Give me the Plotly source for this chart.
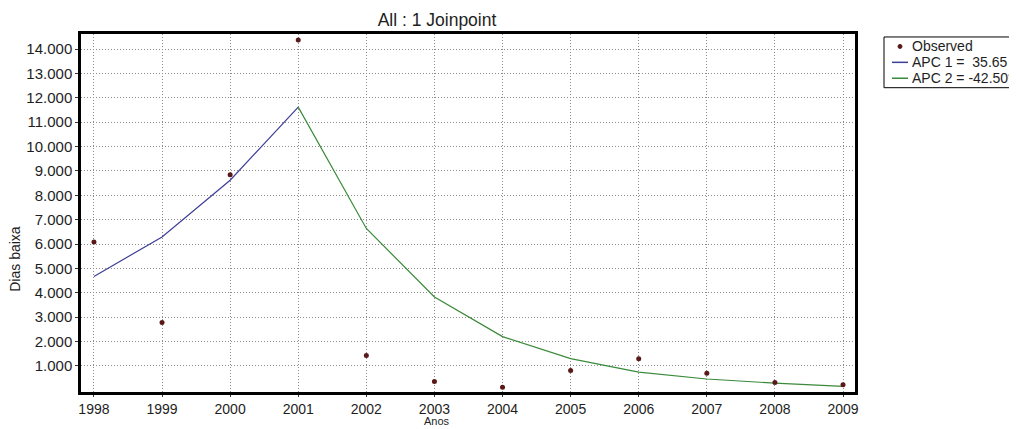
import plotly.graph_objects as go

# ---- data ----
years = [1998, 1999, 2000, 2001, 2002, 2003, 2004, 2005, 2006, 2007, 2008, 2009]
observed = [6080, 2780, 8840, 14370, 1420, 360, 120, 810, 1290, 700, 320, 220]

seg1_years = [1998, 1999, 2000, 2001]
seg1_fit = [4670, 6290, 8620, 11620]

seg2_years = [2001, 2002, 2003, 2004, 2005, 2006, 2007, 2008, 2009]
seg2_fit = [11620, 6640, 3830, 2200, 1300, 740, 460, 290, 160]

y_tickvals = [1000, 2000, 3000, 4000, 5000, 6000, 7000, 8000, 9000, 10000, 11000, 12000, 13000, 14000]
y_ticktext = ["1.000", "2.000", "3.000", "4.000", "5.000", "6.000", "7.000", "8.000", "9.000",
              "10.000", "11.000", "12.000", "13.000", "14.000"]

title_text = "All : 1 Joinpoint"
legend_labels = ["Observed", "APC 1 =  35.65", "APC 2 = -42.50*"]

# ---- layout geometry (screen pixels; page body has an 8px margin) ----
OFF = 8
W, H = 1017 - OFF, 429 - OFF
L, R, T, B = 81, 855, 34, 394          # plot frame in screen pixels

def px_x(p):
    return (p - L) / (R - L)

def px_y(p):
    return (B - p) / (B - T)

FONT = "Liberation Sans, Arial, sans-serif"
TXT = "#1e1e1e"
BLUE = "#3e3e96"
GREEN = "#3a8a3a"
DOT = "#5a1818"
GRID = "#8c8c8c"

fig = go.Figure()
fig.add_trace(go.Scatter(x=seg1_years, y=seg1_fit, mode="lines",
                         line=dict(color=BLUE, width=1.2), showlegend=False))
fig.add_trace(go.Scatter(x=seg2_years, y=seg2_fit, mode="lines",
                         line=dict(color=GREEN, width=1.2), showlegend=False))
fig.add_trace(go.Scatter(x=years, y=observed, mode="markers",
                         marker=dict(color=DOT, size=5), showlegend=False, cliponaxis=False))

fig.update_layout(
    width=W, height=H,
    margin=dict(l=L - OFF, r=1017 - R, t=T - OFF, b=429 - B),
    paper_bgcolor="white", plot_bgcolor="white",
    font=dict(family=FONT, size=15, color=TXT),
    showlegend=False,
    title=dict(text=title_text, x=(437 - OFF) / W, xref="container", xanchor="center",
               y=1 - (19.5 - OFF) / H, yref="container", yanchor="middle",
               font=dict(family=FONT, size=17.5, color=TXT)),
)

fig.update_xaxes(range=[1997.81, 2009.176], tickvals=years, ticktext=[str(y) for y in years],
                 showgrid=True, gridcolor=GRID, griddash="1px,2px", gridwidth=1,
                 showline=True, linecolor="black", linewidth=2.5, mirror=True,
                 ticks="outside", ticklen=2, tickcolor="#333", zeroline=False,
                 tickfont=dict(size=14, color=TXT))
fig.update_yaxes(range=[-73, 14620], tickvals=y_tickvals, ticktext=y_ticktext,
                 showgrid=True, gridcolor=GRID, griddash="1px,2px", gridwidth=1,
                 showline=True, linecolor="black", linewidth=2.5, mirror=True,
                 ticks="outside", ticklen=3, tickcolor="#333", zeroline=False,
                 tickfont=dict(size=15, color=TXT))

# axis titles
fig.add_annotation(text="Dias baixa", xref="paper", yref="paper", x=px_x(15), y=px_y(260),
                   textangle=-90, showarrow=False, xanchor="center", yanchor="middle",
                   font=dict(family=FONT, size=14, color=TXT))
fig.add_annotation(text="Anos", xref="paper", yref="paper", x=px_x(437), y=px_y(429),
                   showarrow=False, xanchor="center", yanchor="bottom",
                   borderpad=0, borderwidth=0,
                   font=dict(family=FONT, size=11, color=TXT))

# manual legend box
fig.add_shape(type="rect", xref="paper", yref="paper",
              x0=px_x(884), x1=px_x(1040), y0=px_y(88), y1=px_y(37),
              line=dict(color="black", width=1), fillcolor="white", layer="above")
rows = [46.5, 62.5, 78.5]
fig.add_shape(type="circle", xref="paper", yref="paper",
              x0=px_x(898), x1=px_x(902), y0=px_y(rows[0] + 2), y1=px_y(rows[0] - 2),
              line=dict(color=DOT, width=1), fillcolor=DOT, layer="above")
fig.add_shape(type="line", xref="paper", yref="paper",
              x0=px_x(892), x1=px_x(908), y0=px_y(rows[1]), y1=px_y(rows[1]),
              line=dict(color=BLUE, width=1.5), layer="above")
fig.add_shape(type="line", xref="paper", yref="paper",
              x0=px_x(892), x1=px_x(908), y0=px_y(rows[2]), y1=px_y(rows[2]),
              line=dict(color=GREEN, width=1.5), layer="above")
for lab, r in zip(legend_labels, rows):
    fig.add_annotation(text=lab, xref="paper", yref="paper", x=px_x(910), y=px_y(r),
                       showarrow=False, xanchor="left", yanchor="middle",
                       font=dict(family=FONT, size=14, color=TXT))

fig.write_html("out.html")
